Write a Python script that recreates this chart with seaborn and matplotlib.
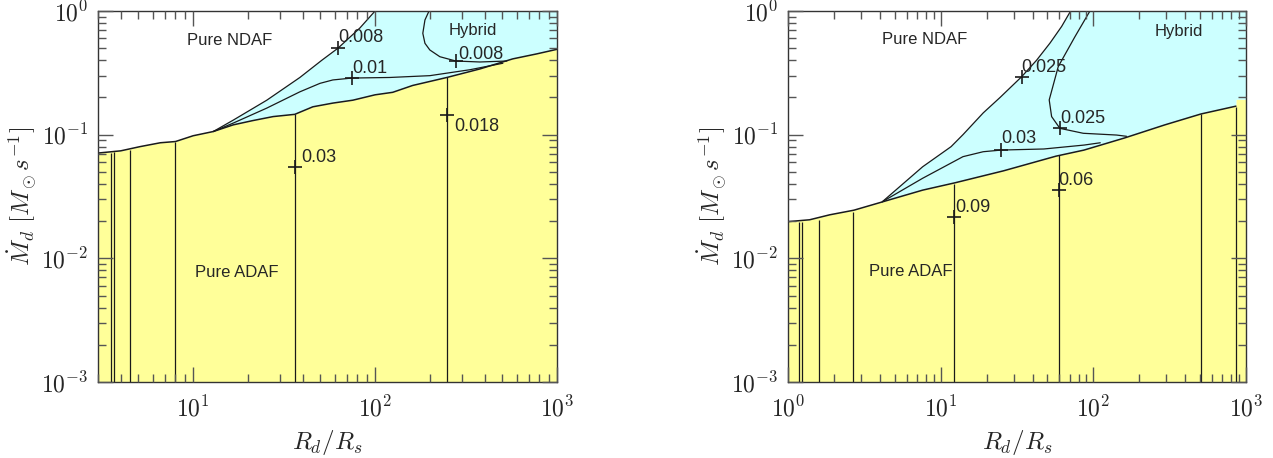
import numpy as np
import matplotlib
matplotlib.use('Agg')
import matplotlib.pyplot as plt
import seaborn as sns
from matplotlib.ticker import LogLocator, FuncFormatter, NullFormatter

YELLOW = '#ffff99'
CYAN = '#ccffff'

# ---- left panel ----
L_bound_x = [3.0, 4.0, 5.1, 6.6, 8.0, 10, 12.9, 16.6, 21.3, 27.5, 36.2, 45.5, 58.6,
             75.5, 100, 125, 161, 248, 377, 571, 774, 1000]
L_bound_y = [0.071, 0.074, 0.080, 0.086, 0.088, 0.098, 0.106, 0.12, 0.13, 0.14, 0.146,
             0.168, 0.18, 0.19, 0.21, 0.22, 0.25, 0.29, 0.34, 0.41, 0.45, 0.49]
# NDAF / hybrid border (the upper 0.008 contour)
L_ndaf_x = [12.9, 16.6, 25.4, 38.6, 51, 62.5, 82.6, 100]
L_ndaf_y = [0.106, 0.131, 0.19, 0.29, 0.40, 0.50, 0.73, 1.0]
L_c01_x = [12.9, 16.6, 25.4, 38.6, 49.8, 58.6, 74.7, 120, 200, 332, 504]
L_c01_y = [0.106, 0.124, 0.164, 0.222, 0.26, 0.277, 0.287, 0.29, 0.30, 0.335, 0.378]
L_c008_x = [198, 188, 183, 188, 200, 227, 278, 377, 530]
L_c008_y = [1.0, 0.846, 0.66, 0.548, 0.484, 0.427, 0.394, 0.387, 0.394]
L_vline_x = [3.52, 3.68, 4.51, 8.0, 36.2, 248]
L_vline_top = [0.071, 0.072, 0.075, 0.088, 0.146, 0.29]
L_mark_x = [62.5, 74.7, 278, 36.2, 248]
L_mark_y = [0.50, 0.287, 0.394, 0.055, 0.144]
L_mark_txt = ['0.008', '0.01', '0.008', '0.03', '0.018']
L_regions = [('Pure NDAF', 15.9, 0.58), ('Hybrid', 344, 0.69), ('Pure ADAF', 17.4, 0.0077)]

# ---- right panel ----
R_bound_x = [1.0, 1.385, 1.88, 2.70, 4.15, 7.62, 12.4, 25.8, 56.9, 86.7, 160, 294,
             507, 859, 862, 1000]
R_bound_y = [0.0198, 0.0205, 0.0225, 0.0245, 0.0286, 0.0356, 0.0408, 0.051, 0.067,
             0.075, 0.094, 0.12, 0.147, 0.17, 0.193, 0.193]
R_ndaf_x = [4.15, 7.62, 11.7, 14.0, 19.0, 24.5, 33.9, 42.5, 52, 62, 71]
R_ndaf_y = [0.0287, 0.055, 0.08, 0.10, 0.150, 0.20, 0.294, 0.40, 0.55, 0.75, 1.0]
R_c03_x = [4.15, 7.62, 14.0, 19.0, 25.0, 47.4, 87, 111]
R_c03_y = [0.0287, 0.0444, 0.0664, 0.0728, 0.0751, 0.0766, 0.0824, 0.086]
R_c025_x = [95, 75.8, 58.9, 51.4, 53.3, 60.4, 85.9, 142, 165]
R_c025_y = [1.0, 0.62, 0.355, 0.191, 0.14, 0.1125, 0.1026, 0.0993, 0.097]
R_vline_x = [1.175, 1.23, 1.59, 2.67, 12.25, 59.3, 504, 859]
R_vline_top = [0.0195, 0.0198, 0.0205, 0.0236, 0.0396, 0.0685, 0.147, 0.168]
R_mark_x = [12.25, 59.3, 25.0, 33.9, 60.4]
R_mark_y = [0.0217, 0.0357, 0.0751, 0.294, 0.1125]
R_mark_txt = ['0.09', '0.06', '0.03', '0.025', '0.025']
R_regions = [('Pure NDAF', 7.86, 0.583), ('Hybrid', 365, 0.68), ('Pure ADAF', 6.35, 0.0078)]

# label offsets (points) for the numbers next to the + marks
L_offs = [(0, 8), (0, 7), (1.5, 5), (5, 7), (5, -8)]
R_offs = [(1, 7), (0, 7), (0, 8), (0, 6.5), (0, 7)]


def log_fmt(v, pos):
    return r'$\mathrm{10^{%d}}$' % int(round(np.log10(v)))


def draw_panel(ax, xlim, bx, by, nx, ny, curves, vx, vtop, mx, my, mtxt, offs, regions,
               outline_max):
    bx = np.array(bx)
    by = np.array(by)
    ax.set_xscale('log')
    ax.set_yscale('log')
    ax.set_axisbelow(False)

    # hybrid everywhere above the ADAF border, then carve out the NDAF corner
    ax.fill_between(bx, by, 1.0, color=CYAN, lw=0)
    left = bx < nx[0]
    wx = np.concatenate([nx, [xlim[0]], bx[left]])
    wy = np.concatenate([ny, [1.0], by[left]])
    ax.fill(wx, wy, color='white', lw=0)
    ax.fill_between(bx, 1e-3, by, color=YELLOW, lw=0)

    keep = bx <= outline_max
    sns.lineplot(x=bx[keep], y=by[keep], sort=False, estimator=None, color='k', lw=1.1, ax=ax)
    sns.lineplot(x=nx, y=ny, sort=False, estimator=None, color='k', lw=0.9, ax=ax)
    for cx, cy in curves:
        sns.lineplot(x=cx, y=cy, sort=False, estimator=None, color='k', lw=0.9, ax=ax)
    ax.vlines(vx, 1e-3, vtop, color='k', lw=0.9)

    sns.scatterplot(x=mx, y=my, marker='+', s=90, color='k', linewidth=1.2, ax=ax, zorder=5)
    for x, y, t, (dx, dy) in zip(mx, my, mtxt, offs):
        ax.annotate(t, (x, y), xytext=(dx, dy), textcoords='offset points',
                    fontsize=13, ha='left', va='center')
    for t, x, y in regions:
        ax.text(x, y, t, fontsize=12, ha='center', va='center')

    ax.set_xlim(xlim)
    ax.set_ylim(1e-3, 1)
    for axis in (ax.xaxis, ax.yaxis):
        axis.set_major_locator(LogLocator(base=10, numticks=10))
        axis.set_minor_locator(LogLocator(base=10, subs=np.arange(2, 10), numticks=20))
        axis.set_major_formatter(FuncFormatter(log_fmt))
        axis.set_minor_formatter(NullFormatter())
    ax.tick_params(which='both', direction='in', top=True, right=True, color='#555555')
    ax.tick_params(which='major', length=11, width=1.0, labelsize=17)
    ax.tick_params(which='minor', length=5.5, width=1.0)
    ax.tick_params(axis='x', pad=10)
    ax.tick_params(axis='y', pad=7)
    for sp in ax.spines.values():
        sp.set_color('#333333')
        sp.set_linewidth(1.0)
    ax.set_xlabel(r'$R_d/R_s$', fontsize=18)
    ax.set_ylabel(r'$\dot{M}_d\ [M_\odot s^{-1}]$', fontsize=18)
    ax.xaxis.set_label_coords(0.5, -0.125)
    ax.yaxis.set_label_coords(-0.13, 0.5)


sns.set_theme(style='ticks')
plt.rcParams['font.family'] = ['Liberation Sans', 'DejaVu Sans']
plt.rcParams['mathtext.fontset'] = 'cm'

fig = plt.figure(figsize=(12.73, 4.58), dpi=100)
ax1 = fig.add_axes([98 / 1273, 76 / 458, 459 / 1273, 371 / 458])
ax2 = fig.add_axes([788 / 1273, 76 / 458, 458 / 1273, 371 / 458])

draw_panel(ax1, (3, 1000), L_bound_x, L_bound_y, L_ndaf_x, L_ndaf_y,
           [(L_c01_x, L_c01_y), (L_c008_x, L_c008_y)],
           L_vline_x, L_vline_top, L_mark_x, L_mark_y, L_mark_txt, L_offs, L_regions, 1000)
draw_panel(ax2, (1, 1000), R_bound_x, R_bound_y, R_ndaf_x, R_ndaf_y,
           [(R_c03_x, R_c03_y), (R_c025_x, R_c025_y)],
           R_vline_x, R_vline_top, R_mark_x, R_mark_y, R_mark_txt, R_offs, R_regions, 860)

fig.savefig('out.png', dpi=100)
